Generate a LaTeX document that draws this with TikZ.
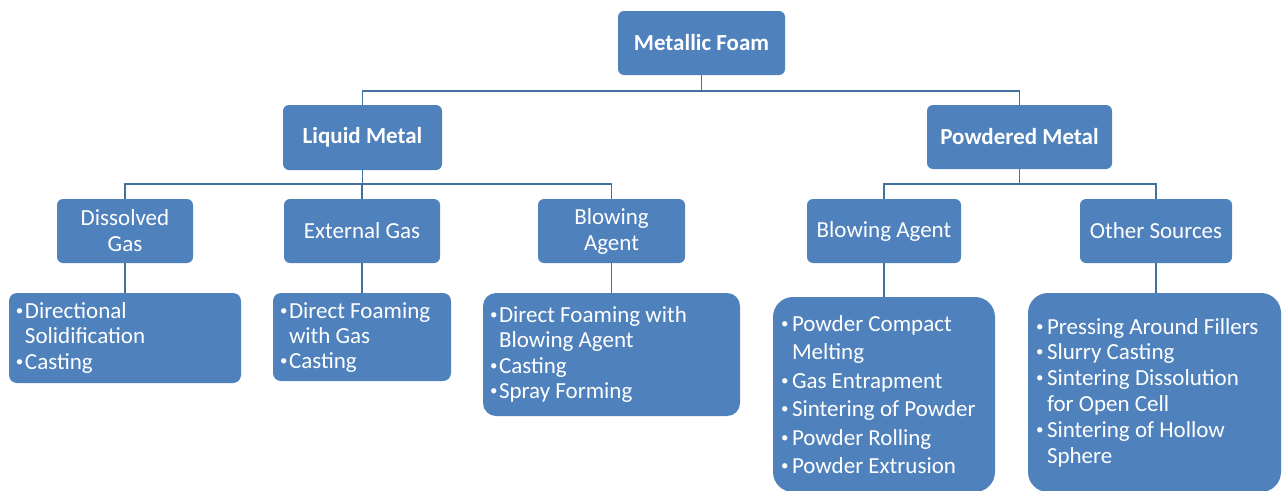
\documentclass[tikz,border=0pt]{standalone}
\usepackage{fontspec}
\setmainfont{Carlito}
\usepackage{graphicx}
\definecolor{boxblue}{HTML}{4F81BD}
\definecolor{linkblue}{HTML}{41719C}
% bullet and hanging indent
\newcommand{\bl}[1][9pt]{\makebox[#1][l]{\raisebox{3pt}{\scalebox{0.65}{\textbullet}}}}
\newcommand{\nb}[1][9pt]{\hspace*{#1}}
% width, height, first baseline, line spacing, items
\newcommand{\lst}[5]{\parbox[c][#2][t]{#1}{\fontsize{23}{#4}\selectfont\raggedright\rule{0pt}{#3}#5}}

\begin{document}
\begin{tikzpicture}
  [x=1pt,y=-1pt,
   box/.style={rectangle,rounded corners=6pt,fill=boxblue,text=white,inner sep=0pt,
     align=center,font=\fontsize{23}{26}\selectfont},
   head/.style={box,font=\fontsize{23}{26}\selectfont\bfseries},
   link/.style={draw=linkblue,line width=1.6pt}]
  \useasboundingbox (0,0) rectangle (1282,490);

  \node[head,minimum width=167,minimum height=64] (mf) at (701.5,43) {Metallic Foam};
  \node[head,minimum width=159,minimum height=65] (lm) at (362.5,137.5) {Liquid Metal};
  \node[head,minimum width=185,minimum height=64] (pm) at (1019.5,137) {Powdered Metal};

  \node[box,minimum width=136,minimum height=64] (dg) at (125,231) {Dissolved\\Gas};
  \node[box,minimum width=156,minimum height=64] (eg) at (362,231) {External Gas};
  \node[box,minimum width=147,minimum height=64] (ba) at (611.5,231) {Blowing\\Agent};
  \node[box,minimum width=154,minimum height=64] (pb) at (884,231) {Blowing Agent};
  \node[box,minimum width=152,minimum height=64] (os) at (1156,231) {Other Sources};

  \node[box,rounded corners=8pt,minimum width=232,minimum height=90] (l1) at (125,338)
    {\lst{218pt}{90pt}{25pt}{25.5pt}{\bl Directional\\\nb Solidification\\\bl Casting}};
  \node[box,rounded corners=8pt,minimum width=178,minimum height=88] (l2) at (362,337)
    {\lst{164pt}{88pt}{25pt}{25pt}{\bl Direct Foaming\\\nb with Gas\\\bl Casting}};
  \node[box,rounded corners=13pt,minimum width=257,minimum height=123] (l3) at (611.5,354.5)
    {\lst{243pt}{123pt}{29pt}{25.5pt}{\bl Direct Foaming with\\\nb Blowing Agent\\\bl Casting\\\bl Spray Forming}};
  \node[box,rounded corners=20pt,minimum width=222,minimum height=195] (l4) at (884,394.5)
    {\lst{206pt}{195pt}{34pt}{28.5pt}{\bl[11pt]Powder Compact\\\nb[11pt]Melting\\\bl[11pt]Gas Entrapment\\\bl[11pt]Sintering of Powder\\\bl[11pt]Powder Rolling\\\bl[11pt]Powder Extrusion}};
  \node[box,rounded corners=20pt,minimum width=253,minimum height=199] (l5) at (1154.5,392.5)
    {\lst{237pt}{199pt}{41pt}{25.8pt}{\bl[11pt]Pressing Around Fillers\\\bl[11pt]Slurry Casting\\\bl[11pt]Sintering Dissolution\\\nb[11pt]for Open Cell\\\bl[11pt]Sintering of Hollow\\\nb[11pt]Sphere}};

  \foreach \from/\to/\drop in {mf/lm/16,mf/pm/16,lm/dg/14,lm/eg/14,lm/ba/14,pm/pb/15,pm/os/15}
    \draw[link] (\from.south) -- +(0,\drop) -| (\to.north);
  \foreach \from/\to in {dg/l1,eg/l2,ba/l3,pb/l4,os/l5}
    \draw[link] (\from.south) -- (\from.south |- \to.north);

\end{tikzpicture}
\end{document}
